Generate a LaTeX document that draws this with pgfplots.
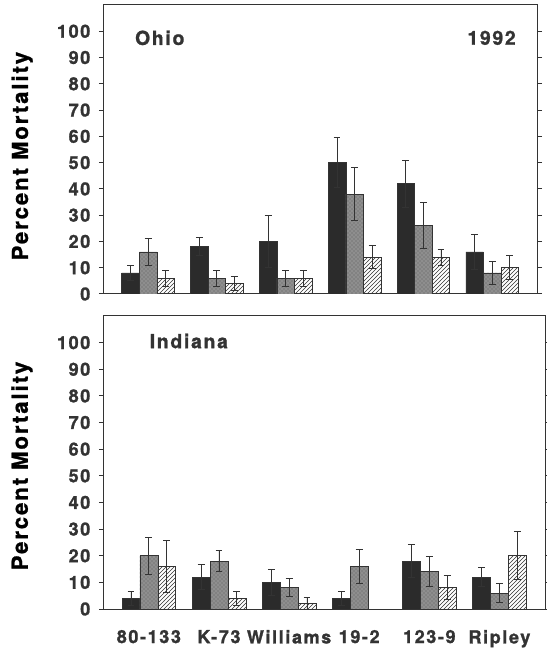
\documentclass[border=0pt]{standalone}
\usepackage{fontspec}
\setmainfont{TeX Gyre Heros}[LetterSpace=9, BoldFeatures={FakeBold=1.2}]
\usepackage{pgfplots}
\pgfplotsset{compat=1.18}
\usetikzlibrary{patterns}

\definecolor{ink}{HTML}{333333}
\definecolor{darkbar}{HTML}{2B2B2B}
\definecolor{midbar}{HTML}{8E8E8E}

\tikzset{lbl/.style={font=\fontsize{14.5}{17}\selectfont\bfseries, text=ink}}

\pgfplotsset{
  panel/.style={
    scale only axis, ybar, bar width=0.255,
    xmin=-0.64, xmax=5.65, ymin=0, ymax=110,
    ytick={0,10,...,100}, xtick={0,...,5},
    tick align=outside, ytick pos=both, xtick style={draw=none},
    major tick length=3.75pt,
    axis line style={ink, line width=0.75pt},
    ytick style={ink, line width=0.75pt},
    tick label style={font=\fontsize{13.5}{15}\selectfont\bfseries, text=ink},
    yticklabel style={xshift=-3pt},
    /pgf/number format/assume math mode=true,
    ylabel={Percent Mortality},
    ylabel style={font=\fontsize{16.5}{19}\selectfont\bfseries, text=black, anchor=center},
    error bars/y dir=both, error bars/y explicit,
    error bars/error bar style={ink, line width=0.7pt},
    error bars/error mark options={rotate=90, mark size=2.6pt, ink, line width=0.7pt},
  },
  blk/.style={fill=darkbar, draw=ink, bar shift=-0.255},
  gry/.style={fill=midbar, draw=ink, bar shift=0,
    postaction={pattern=crosshatch dots, pattern color=midbar!65!black}},
  hat/.style={pattern=north east lines, pattern color=ink, draw=ink, bar shift=0.255},
}

\begin{document}
\begin{tikzpicture}
\path[use as bounding box] (-78pt,-266.25pt) rectangle (331.5pt,220.5pt);

% Ohio
\begin{axis}[panel, at={(0pt,0pt)}, anchor=south west,
  width=324.75pt, height=216.75pt, xticklabels={},
  ylabel style={at={(axis description cs:-0.189,0.477)}}]
\addplot[blk] coordinates {
  (0,8) +- (0,3) (1,18) +- (0,3.5) (2,20) +- (0,10)
  (3,50) +- (0,9.5) (4,42) +- (0,9) (5,16) +- (0,6.5)};
\addplot[gry] coordinates {
  (0,16) +- (0,5) (1,6) +- (0,3) (2,6) +- (0,3)
  (3,38) +- (0,10) (4,26) +- (0,8.7) (5,8) +- (0,4.3)};
\addplot[hat] coordinates {
  (0,6) +- (0,3) (1,4) +- (0,2.5) (2,6) +- (0,3)
  (3,14) +- (0,4.4) (4,14) +- (0,3) (5,10) +- (0,4.6)};
\node[lbl] at (axis cs:0.17,97.5) {Ohio};
\node[lbl] at (axis cs:4.99,97.5) {1992};
\end{axis}

% Indiana
\begin{axis}[panel, at={(0pt,-236.25pt)}, anchor=south west,
  width=330.75pt, height=219.75pt,
  xticklabels={80-133, K-73, Williams, 19-2, 123-9, Ripley},
  xticklabel style={yshift=-8.5pt},
  ylabel style={at={(axis description cs:-0.186,0.488)}}]
\addplot[blk] coordinates {
  (0,4) +- (0,2.7) (1,12) +- (0,4.7) (2,10) +- (0,4.8)
  (3,4) +- (0,2.6) (4,18) +- (0,6.3) (5,12) +- (0,3.6)};
\addplot[gry] coordinates {
  (0,20) +- (0,7) (1,18) +- (0,4) (2,8) +- (0,3.4)
  (3,16) +- (0,6.4) (4,14) +- (0,5.6) (5,6) +- (0,3.4)};
\addplot[hat] coordinates {
  (0,16) +- (0,9.8) (1,4) +- (0,2.6) (2,2) +- (0,2.4)
  (4,8) +- (0,4.6) (5,20) +- (0,9)};
\node[lbl] at (axis cs:0.57,100.6) {Indiana};
\end{axis}
\end{tikzpicture}
\end{document}
